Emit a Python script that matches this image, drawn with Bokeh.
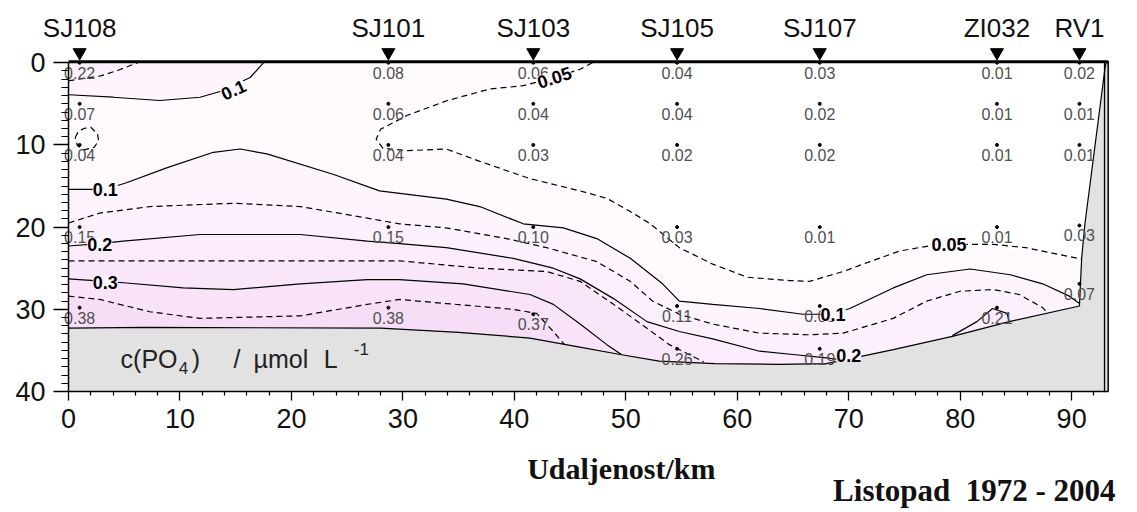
from bokeh.plotting import figure
from bokeh.models import Range1d, FixedTicker, Label
from bokeh.embed import file_html
from bokeh.resources import INLINE
from bokeh.core.properties import value

# ---------------- data ----------------
station_names = ["SJ108", "SJ101", "SJ103", "SJ105", "SJ107", "ZI032", "RV1"]
station_km = [1.0, 28.7, 41.7, 54.6, 67.4, 83.3, 90.7]

sample_km = [1.0, 1.0, 1.0, 1.0, 1.0,
             28.7, 28.7, 28.7, 28.7, 28.7,
             41.7, 41.7, 41.7, 41.7, 41.7,
             54.6, 54.6, 54.6, 54.6, 54.6, 54.6,
             67.4, 67.4, 67.4, 67.4, 67.4, 67.4,
             83.3, 83.3, 83.3, 83.3, 83.3,
             90.7, 90.7, 90.7, 90.7, 90.7]
sample_depth = [0, 5, 10, 20, 29.8,
                0, 5, 10, 20, 29.8,
                0, 5, 10, 20, 30.6,
                0, 5, 10, 20, 29.6, 34.8,
                0, 5, 10, 20, 29.6, 34.8,
                0, 5, 10, 20, 29.8,
                0, 5, 10, 19.8, 26.9]
sample_value = [0.22, 0.07, 0.04, 0.15, 0.38,
                0.08, 0.06, 0.04, 0.15, 0.38,
                0.06, 0.04, 0.03, 0.10, 0.37,
                0.04, 0.04, 0.02, 0.03, 0.11, 0.26,
                0.03, 0.02, 0.02, 0.01, 0.08, 0.19,
                0.01, 0.01, 0.01, 0.01, 0.21,
                0.02, 0.01, 0.01, 0.03, 0.07]

# contour lines (distance km, depth m)
c005_km = [47.0, 45.9, 43.5, 40.8, 37.8, 34.0, 30.4, 28.0, 27.6, 28.2, 30.4, 33.9, 36.9, 41.4,
           45.9, 48.3, 50.4, 52.2, 54.8, 57.8, 60.9, 64.7, 66.5, 69.5, 71.9, 74.6, 78.0, 80.0,
           83.0, 85.9, 90.9]
c005_depth = [0.0, 0.8, 1.85, 2.8, 3.2, 4.6, 6.4, 8.1, 9.3, 10.4, 10.7, 10.5, 12.0, 14.1,
              15.6, 16.5, 18.1, 19.6, 22.5, 24.5, 26.1, 26.5, 26.6, 25.4, 24.2, 22.9, 22.1, 22.1,
              22.1, 22.5, 23.9]
c005_loop_km = [0.6, 0.9, 1.4, 2.0, 2.6, 2.7, 2.3, 1.4, 0.8, 0.6]
c005_loop_depth = [9.1, 8.3, 8.0, 7.85, 8.65, 9.5, 10.3, 10.6, 10.1, 9.1]

c010_top_km = [0.0, 4.0, 8.2, 11.8, 13.6, 16.3, 17.5]
c010_top_depth = [3.9, 4.2, 4.6, 4.2, 3.5, 1.8, 0.0]
c015_top_km = [0.0, 2.9, 4.4, 6.2]
c015_top_depth = [2.2, 1.6, 0.95, 0.0]

c010_km = [0.0, 3.3, 5.2, 8.8, 13.0, 15.4, 17.8, 23.8, 27.9, 33.9, 36.9, 40.8, 44.4, 47.4,
           50.4, 53.3, 54.8, 57.8, 62.0, 65.9, 68.3, 70.1, 74.0, 77.0, 80.9, 84.5, 87.4, 89.8, 90.7]
c010_depth = [15.4, 15.4, 14.6, 12.8, 10.9, 10.5, 11.1, 13.6, 15.6, 16.6, 17.5, 19.6, 20.1, 21.4,
              23.8, 26.9, 29.0, 29.4, 29.9, 30.6, 30.6, 29.9, 27.4, 25.8, 25.1, 25.8, 26.9, 28.4, 29.3]

c015_km = [0.0, 2.8, 7.3, 14.8, 20.8, 26.8, 29.7, 33.9, 39.3, 42.9, 47.4, 50.4, 52.4, 54.8,
           57.8, 62.0, 66.5, 69.5, 74.0, 77.0, 80.0, 83.0, 85.3, 87.4, 87.8]
c015_depth = [19.5, 18.3, 17.5, 17.1, 17.5, 18.9, 19.6, 20.1, 21.4, 22.5, 24.2, 26.6, 29.0, 30.6,
              31.8, 32.9, 33.1, 32.9, 31.1, 29.0, 27.8, 27.6, 28.2, 29.8, 30.4]

c020_km = [0.0, 2.8, 4.9, 11.8, 20.8, 26.8, 29.7, 33.9, 39.9, 43.5, 45.9, 48.9, 51.9, 54.8,
           57.8, 62.0, 65.0, 68.0, 69.6]
c020_depth = [22.3, 22.0, 21.7, 20.9, 20.9, 21.7, 22.0, 22.5, 23.8, 25.0, 26.3, 28.7, 31.5, 32.7,
              33.6, 35.1, 35.5, 35.9, 36.2]
c020_bump_km = [79.3, 81.5, 82.9, 84.2, 84.4]
c020_bump_depth = [33.2, 31.5, 29.9, 30.5, 31.5]

c025_km = [0.0, 10.0, 20.0, 29.7, 36.9, 42.9, 45.9, 48.9, 51.9, 53.9, 57.0]
c025_depth = [24.1, 24.1, 24.1, 24.1, 25.0, 25.4, 26.6, 29.4, 32.3, 34.3, 36.4]

c030_km = [0.0, 3.3, 5.2, 10.3, 14.8, 20.8, 26.8, 29.7, 35.4, 41.4, 43.5, 45.9, 48.3, 49.6]
c030_depth = [26.3, 26.6, 26.8, 27.4, 27.6, 26.9, 26.4, 26.4, 26.9, 28.2, 29.4, 31.8, 34.3, 35.5]

c035_km = [0.0, 2.8, 7.3, 11.8, 20.8, 26.8, 29.7, 33.9, 39.9, 42.0, 43.5, 44.5]
c035_depth = [28.4, 28.8, 30.3, 31.1, 30.8, 29.4, 28.8, 29.3, 30.0, 30.5, 32.7, 34.3]

bottom_km = [0.0, 7.0, 28.0, 35.0, 41.4, 45.5, 49.5, 53.0, 58.0, 63.8, 68.0, 74.0, 79.3, 84.4,
             90.7, 90.9, 91.2, 93.0, 93.1]
bottom_depth = [32.3, 32.2, 32.3, 32.8, 33.5, 34.5, 35.5, 36.3, 36.6, 36.7, 36.6, 34.9, 33.3, 31.5,
                29.6, 23.8, 19.5, 0.6, 0.0]

contour_label_text = ["0.1", "0.05", "0.1", "0.2", "0.3", "0.1", "0.2", "0.05"]
contour_label_km = [14.8, 43.6, 3.3, 2.8, 3.3, 68.6, 70.0, 79.0]
contour_label_depth = [3.3, 1.8, 15.4, 22.1, 26.7, 30.6, 35.6, 22.1]
contour_label_angle = [25, 18, 0, 0, 0, 0, 0, 0]

x_ticks = [0, 10, 20, 30, 40, 50, 60, 70, 80, 90]
x_minor = [2, 4, 6, 8, 12, 14, 16, 18, 22, 24, 26, 28, 32, 34, 36, 38, 42, 44, 46, 48,
           52, 54, 56, 58, 62, 64, 66, 68, 72, 74, 76, 78, 82, 84, 86, 88, 92]
y_ticks = [0, 10, 20, 30, 40]
y_minor = [d for d in range(1, 40) if d % 10 != 0]

# ---------------- styling ----------------
band_colors = {0.05: "#fefafe", 0.10: "#fdf4fd", 0.15: "#fcf0fc", 0.20: "#fbebfb",
               0.25: "#f9e7f9", 0.30: "#f8e3f8", 0.35: "#f6dff6"}
GRAY = "#e2e2e2"
SANS = "Liberation Sans"
SERIF = "Liberation Serif"
X_END = 93.28
W, H = 1135, 508
PX_KM, X0 = 11.146, 68.0      # pixels per km, pixel of km 0
PX_M, Y0 = 8.22, 62.2         # pixels per metre, pixel of depth 0
NB = "\u00a0"

p = figure(width=W, height=H,
           x_range=Range1d(-X0 / PX_KM, (W - X0) / PX_KM),
           y_range=Range1d((H - Y0) / PX_M, -Y0 / PX_M),
           output_backend="svg", toolbar_location=None,
           min_border_left=0, min_border_right=0, min_border_top=0, min_border_bottom=0)
p.outline_line_color = None
p.xgrid.visible = False
p.ygrid.visible = False
p.background_fill_color = "white"
p.border_fill_color = "white"


def down(km, d, left=None):
    x0 = km[0] if left is None else left
    return km + [km[-1], x0], d + [40, 40]


def up(km, d):
    return km + [0], d + [0]


x005, y005 = down(c005_km, c005_depth, left=0)
polys = [
    ((x005 + [0], y005 + [0]), band_colors[0.05]),
    ((c005_loop_km, c005_loop_depth), "#ffffff"),
    (down(c010_km, c010_depth), band_colors[0.10]),
    (up(c010_top_km, c010_top_depth), band_colors[0.10]),
    (down(c015_km, c015_depth), band_colors[0.15]),
    (up(c015_top_km, c015_top_depth), band_colors[0.15]),
    (down(c020_km, c020_depth), band_colors[0.20]),
    (down(c020_bump_km, c020_bump_depth), band_colors[0.20]),
    (down(c025_km, c025_depth), band_colors[0.25]),
    (down(c030_km, c030_depth), band_colors[0.30]),
    (down(c035_km, c035_depth), band_colors[0.35]),
]
p.patches([pp[0][0] for pp in polys], [pp[0][1] for pp in polys],
          fill_color=[pp[1] for pp in polys], line_color=None)

# sea floor
p.patch(bottom_km + [X_END, X_END, 0], bottom_depth + [0, 40, 40],
        fill_color=GRAY, line_color=None)
p.line(bottom_km, bottom_depth, line_color="black", line_width=1.2)

# contour lines
solid = [(c010_km, c010_depth), (c010_top_km, c010_top_depth), (c020_km, c020_depth),
         (c020_bump_km, c020_bump_depth), (c030_km, c030_depth)]
dashed = [(c005_km, c005_depth), (c005_loop_km, c005_loop_depth), (c015_km, c015_depth),
          (c015_top_km, c015_top_depth), (c025_km, c025_depth), (c035_km, c035_depth)]
for km, d in solid:
    p.line(km, d, line_color="black", line_width=1.2)
for km, d in dashed:
    p.line(km, d, line_color="black", line_width=1.2, line_dash="6 4")

# frame lines
p.line([0, X_END], [-0.12, -0.12], line_color="black", line_width=3)
p.line([92.95, 92.95], [0, 40], line_color="black", line_width=1.3)
p.line([X_END, X_END], [-0.2, 40], line_color="black", line_width=1.5)

# sample points and values
p.scatter(sample_km, sample_depth, size=3, color="black")
p.text(sample_km, sample_depth, text=[f"{v:.2f}" for v in sample_value],
       text_font=value(SANS), text_font_size="16px", text_color="#505050",
       text_align="center", text_baseline="middle", y_offset=10)

# stations
p.scatter(station_km, [-1.25] * len(station_km), marker="inverted_triangle", size=13,
          color="black")
p.text(station_km, [-4.2] * len(station_km), text=station_names,
       text_font=value(SANS), text_font_size="26px", text_color="#111111",
       text_align="center", text_baseline="middle")

# contour labels
for t, x, d, a in zip(contour_label_text, contour_label_km, contour_label_depth,
                      contour_label_angle):
    p.add_layout(Label(x=x, y=d, text=t, angle=a, angle_units="deg",
                       text_font=SANS, text_font_style="bold", text_font_size="18px",
                       text_color="black", text_align="center", text_baseline="middle",
                       background_fill_color="#fdf6fd"))

# unit label inside the sea floor
unit_parts = [("c(PO", 4.67, 36.05, "25px"), ("4", 9.9, 37.15, "17px"),
              (")", 11.05, 36.05, "25px"), ("/", 14.8, 36.05, "25px"),
              ("\u00b5mol", 16.6, 36.05, "25px"), ("L", 22.9, 36.05, "25px"),
              ("-1", 25.6, 34.83, "17px")]
p.text([u[1] for u in unit_parts], [u[2] for u in unit_parts], text=[u[0] for u in unit_parts],
       text_font=value(SANS), text_font_size=[u[3] for u in unit_parts],
       text_color="#222222", text_align="left", text_baseline="middle")

# titles below the axis
p.text([49.6], [49.4], text=["Udaljenost/km"], text_font=value(SERIF),
       text_font_style="bold", text_font_size="30px", text_color="#111111",
       text_align="center", text_baseline="middle")
p.text([68.6], [52.05], text=["Listopad" + NB + NB + "1972" + NB + "-" + NB + "2004"],
       text_font=value(SERIF),
       text_font_style="bold", text_font_size="31px", text_color="#111111",
       text_align="left", text_baseline="middle")

# axes (placed at the section's edges inside the data area)
xa = p.xaxis[0]
xa.ticker = FixedTicker(ticks=x_ticks, minor_ticks=x_minor)
xa.bounds = (0, X_END)
xa.fixed_location = 40
ya = p.yaxis[0]
ya.ticker = FixedTicker(ticks=y_ticks, minor_ticks=y_minor)
ya.bounds = (0, 40)
ya.fixed_location = 0
for ax in (xa, ya):
    ax.axis_line_color = "black"
    ax.axis_line_width = 1.5
    ax.major_tick_line_color = "black"
    ax.major_tick_line_width = 1.3
    ax.minor_tick_line_color = "black"
    ax.minor_tick_line_width = 1.2
    ax.major_tick_in = 0
    ax.minor_tick_in = 0
    ax.major_label_text_font = SANS
    ax.major_label_text_font_size = "27px"
    ax.major_label_text_color = "#111111"
xa.major_tick_out = 9
xa.minor_tick_out = 4
xa.major_label_standoff = 8
ya.major_tick_out = 15
ya.minor_tick_out = 7
ya.major_label_standoff = 8

open("out.html", "w").write(file_html(p, INLINE))
